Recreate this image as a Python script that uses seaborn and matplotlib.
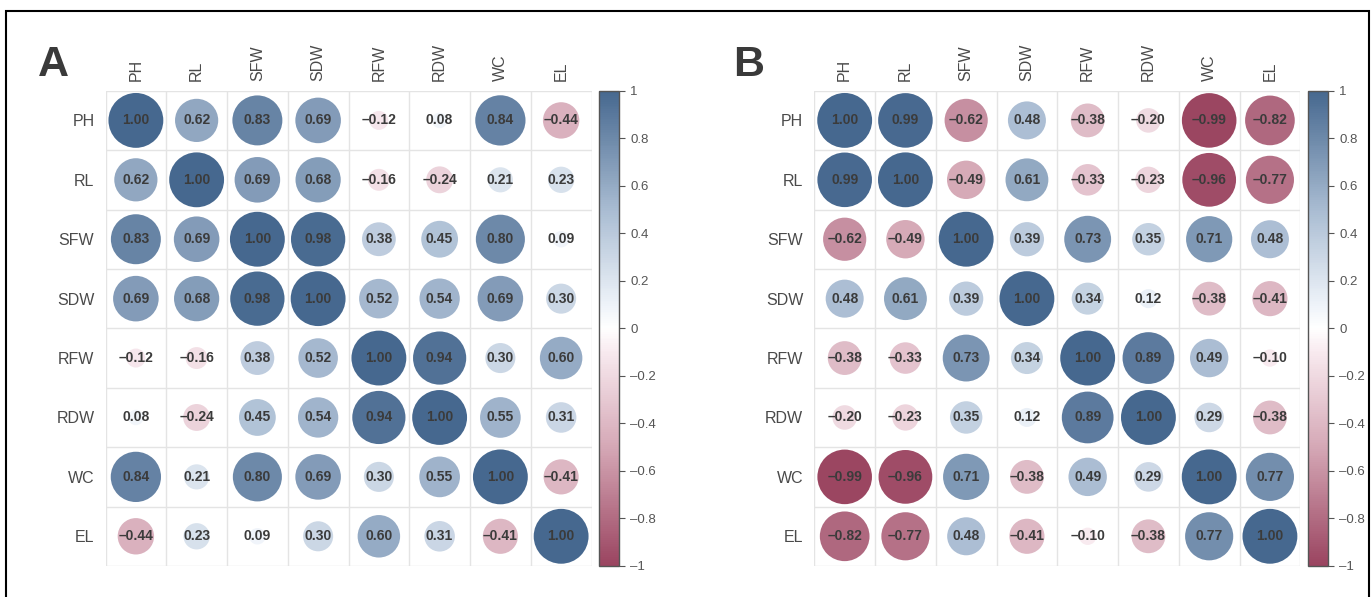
import numpy as np
import pandas as pd
import matplotlib
matplotlib.use("Agg")
import matplotlib.pyplot as plt
from matplotlib.colors import LinearSegmentedColormap, Normalize
from matplotlib.cm import ScalarMappable
from matplotlib.patches import Rectangle
import seaborn as sns

# Trait names (rows and columns of both correlation matrices)
traits = ["PH", "RL", "SFW", "SDW", "RFW", "RDW", "WC", "EL"]

# Pearson correlation coefficients, panel A
corr_a = [
    [1.00, 0.62, 0.83, 0.69, -0.12, 0.08, 0.84, -0.44],
    [0.62, 1.00, 0.69, 0.68, -0.16, -0.24, 0.21, 0.23],
    [0.83, 0.69, 1.00, 0.98, 0.38, 0.45, 0.80, 0.09],
    [0.69, 0.68, 0.98, 1.00, 0.52, 0.54, 0.69, 0.30],
    [-0.12, -0.16, 0.38, 0.52, 1.00, 0.94, 0.30, 0.60],
    [0.08, -0.24, 0.45, 0.54, 0.94, 1.00, 0.55, 0.31],
    [0.84, 0.21, 0.80, 0.69, 0.30, 0.55, 1.00, -0.41],
    [-0.44, 0.23, 0.09, 0.30, 0.60, 0.31, -0.41, 1.00],
]

# Pearson correlation coefficients, panel B
corr_b = [
    [1.00, 0.99, -0.62, 0.48, -0.38, -0.20, -0.99, -0.82],
    [0.99, 1.00, -0.49, 0.61, -0.33, -0.23, -0.96, -0.77],
    [-0.62, -0.49, 1.00, 0.39, 0.73, 0.35, 0.71, 0.48],
    [0.48, 0.61, 0.39, 1.00, 0.34, 0.12, -0.38, -0.41],
    [-0.38, -0.33, 0.73, 0.34, 1.00, 0.89, 0.49, -0.10],
    [-0.20, -0.23, 0.35, 0.12, 0.89, 1.00, 0.29, -0.38],
    [-0.99, -0.96, 0.71, -0.38, 0.49, 0.29, 1.00, 0.77],
    [-0.82, -0.77, 0.48, -0.41, -0.10, -0.38, 0.77, 1.00],
]

panel_letters = ["A", "B"]
cbar_ticks = [1.0, 0.8, 0.6, 0.4, 0.2, 0.0, -0.2, -0.4, -0.6, -0.8, -1.0]

sns.set_theme(style="white")
plt.rcParams["font.family"] = ["Liberation Sans", "DejaVu Sans"]

cmap = LinearSegmentedColormap.from_list(
    "corr",
    [(0.0, "#9A4460"), (0.25, "#D5A8B6"), (0.45, "#F8EAEF"), (0.5, "#FFFFFF"),
     (0.55, "#EEF3F9"), (0.75, "#A9BCD2"), (1.0, "#46688F")],
)
norm = Normalize(vmin=-1, vmax=1)

W, H = 1372, 597
fig = plt.figure(figsize=(W / 100, H / 100), dpi=100)
DASH = "\u2013"


def fx(px):
    return px / W


def fy(px):
    return 1 - px / H


def long_form(matrix):
    rows = []
    for i, r in enumerate(traits):
        for j, c in enumerate(traits):
            v = matrix[i][j]
            rows.append({"row": i, "col": j, "r": v, "absr": abs(v)})
    return pd.DataFrame(rows)


def fmt(v):
    s = f"{abs(v):.2f}"
    return (DASH + s) if v < 0 else s


def draw_panel(matrix, left_px, cbar_px, letter, letter_px):
    top_px, bot_px = 90.7, 566.0
    width_px = 486.0
    ax = fig.add_axes([fx(left_px), fy(bot_px), width_px / W, (bot_px - top_px) / H])
    df = long_form(matrix)
    n = len(traits)

    # cell grid
    for k in range(n + 1):
        ax.axhline(k - 0.5, color="#e4e4e4", lw=1.0, zorder=0)
        ax.axvline(k - 0.5, color="#e4e4e4", lw=1.0, zorder=0)

    sns.scatterplot(
        data=df, x="col", y="row", hue="r", hue_norm=norm, palette=cmap,
        size="absr", size_norm=(0, 1), sizes=(0, 1560),
        linewidth=0, legend=False, ax=ax, zorder=2,
    )
    for _, rw in df.iterrows():
        ax.text(rw["col"], rw["row"], fmt(rw["r"]), ha="center", va="center",
                fontsize=10, fontweight="bold", color="#3b3b3b", zorder=3)

    ax.set_xlim(-0.5, n - 0.5)
    ax.set_ylim(n - 0.5, -0.5)
    ax.set_xticks(range(n))
    ax.set_yticks(range(n))
    ax.set_xticklabels(traits, rotation=90, fontsize=11.5, color="#4a4a4a")
    ax.set_yticklabels(traits, fontsize=11.5, color="#4a4a4a")
    ax.xaxis.tick_top()
    ax.tick_params(axis="both", length=0)
    ax.tick_params(axis="x", pad=7)
    ax.tick_params(axis="y", pad=8)
    ax.set_xlabel("")
    ax.set_ylabel("")
    for sp in ax.spines.values():
        sp.set_visible(False)

    # colour bar
    cax = fig.add_axes([fx(cbar_px), fy(bot_px), 20 / W, (bot_px - top_px) / H])
    sm = ScalarMappable(norm=norm, cmap=cmap)
    cb = fig.colorbar(sm, cax=cax, ticks=cbar_ticks)
    cb.ax.set_yticklabels([(DASH + f"{abs(t):g}") if t < 0 else f"{t:g}" for t in cbar_ticks])
    cb.ax.tick_params(length=4, width=0.8, color="#555555", labelsize=9.5,
                      labelcolor="#555555", pad=4)
    cb.outline.set_edgecolor("#555555")
    cb.outline.set_linewidth(1.0)

    fig.text(fx(letter_px[0]), fy(letter_px[1]), letter, fontsize=31, fontweight="bold",
             color="#3a3a3a", ha="left", va="baseline")


draw_panel(corr_a, 105.5, 599, panel_letters[0], (38, 76))
draw_panel(corr_b, 814.3, 1308, panel_letters[1], (733, 76))

# outer frame
fig.patches.append(Rectangle((fx(6), -0.1), fx(1369) - fx(6), fy(11) + 0.1,
                             transform=fig.transFigure, fill=False,
                             edgecolor="black", linewidth=1.5, zorder=10))

fig.savefig("out.png", dpi=100)
